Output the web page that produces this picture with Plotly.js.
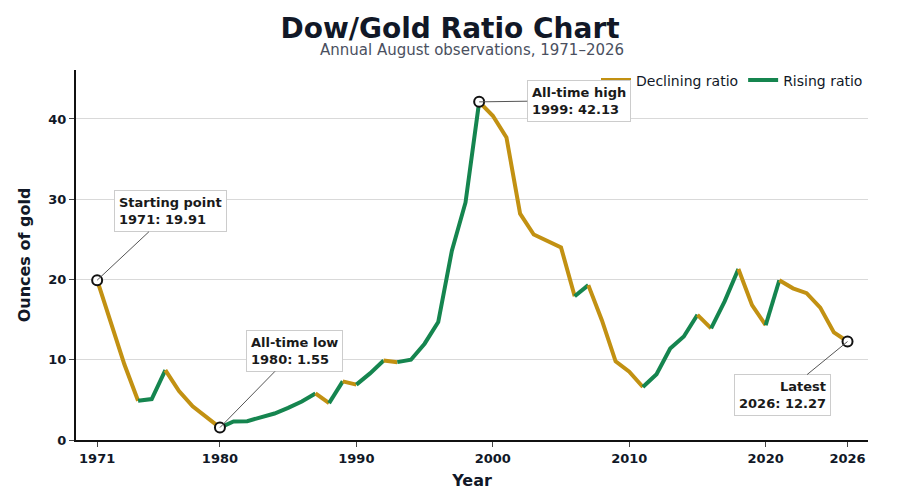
<!DOCTYPE html>
<html>
<head>
<meta charset="utf-8">
<script src="https://cdn.plot.ly/plotly-3.0.1.min.js"></script>
<style>body{margin:0;background:#fff}#chart{width:900px;height:500px}</style>
</head>
<body>
<div id="chart"></div>
<script>
var years = [];
for (var y = 1971; y <= 2026; y++) years.push(y);

var ratio = [19.91, 14.7, 9.4, 4.9, 5.1, 8.7, 6.1, 4.2, 2.9, 1.55,
	2.3, 2.35, 2.8, 3.3, 4.0, 4.8, 5.8, 4.6, 7.3, 6.9,
	8.3, 9.9, 9.7, 10.0, 12.0, 14.7, 23.6, 29.6, 42.13, 40.4,
	37.7, 28.2, 25.6, 24.8, 24.0, 17.9, 19.3, 14.9, 9.8, 8.5,
	6.6, 8.2, 11.4, 12.9, 15.6, 13.9, 17.3, 21.3, 16.8, 14.3,
	19.9, 18.9, 18.3, 16.5, 13.4, 12.27];

var tick_vals = [1971, 1980, 1990, 2000, 2010, 2020, 2026];

var notes = [
	{year: 1971, value: 19.91, text: 'Starting point<br>1971: 19.91', tx: 1976.4, ty: 28.5, align: 'left'},
	{year: 1980, value: 1.55, text: 'All-time low<br>1980: 1.55', tx: 1985.5, ty: 11.1, align: 'left'},
	{year: 1999, value: 42.13, text: 'All-time high<br>1999: 42.13', tx: 2006.3, ty: 42.3, align: 'left'},
	{year: 2026, value: 12.27, text: 'Latest<br>2026: 12.27', tx: 2021.2, ty: 5.6, align: 'right'}
];

var down_colour = '#c29112';
var up_colour = '#15854f';

// split the series into runs of rising / falling segments
var data = [];
var shown = {down: false, up: false};
var i = 0;
while (i < ratio.length - 1) {
	var rising = ratio[i + 1] > ratio[i];
	var j = i;
	while (j < ratio.length - 1 && (ratio[j + 1] > ratio[j]) === rising) j++;
	var kind = rising ? 'up' : 'down';
	data.push({
		x: years.slice(i, j + 1),
		y: ratio.slice(i, j + 1),
		type: 'scatter',
		mode: 'lines',
		line: {color: rising ? up_colour : down_colour, width: 4},
		name: rising ? 'Rising ratio' : 'Declining ratio',
		legendgroup: kind,
		legendrank: rising ? 2 : 1,
		showlegend: !shown[kind],
		hoverinfo: 'x+y'
	});
	shown[kind] = true;
	i = j;
}

data.push({
	x: notes.map(function (n) { return n.year; }),
	y: notes.map(function (n) { return n.value; }),
	type: 'scatter',
	mode: 'markers',
	marker: {size: 10, color: '#fff', line: {color: '#111', width: 2}},
	showlegend: false,
	hoverinfo: 'skip'
});

var annotations = notes.map(function (n) {
	return {
		x: n.year, y: n.value, xref: 'x', yref: 'y',
		ax: n.tx, ay: n.ty, axref: 'x', ayref: 'y',
		text: '<b>' + n.text + '</b>',
		align: n.align,
		showarrow: true, arrowhead: 0, arrowwidth: 1, arrowcolor: '#555',
		bgcolor: '#fff', bordercolor: '#ccc', borderwidth: 1, borderpad: 4,
		font: {size: 13, color: '#1a1a1a'}
	};
});
annotations.push({
	text: 'Annual August observations, 1971–2026',
	xref: 'paper', yref: 'paper', x: 0.5, y: 1, yshift: 20, xanchor: 'center', yanchor: 'middle',
	showarrow: false, font: {size: 15, color: '#4a5060'}
});

var layout = {
	width: 900, height: 500,
	margin: {l: 76, r: 32, t: 70, b: 60},
	font: {family: 'DejaVu Sans', color: '#111827'},
	title: {text: '<b>Dow/Gold Ratio Chart</b>', font: {size: 28, color: '#111827'}, x: 0.5, xanchor: 'center', yref: 'container', y: 0.944, yanchor: 'middle'},
	paper_bgcolor: '#fff', plot_bgcolor: '#fff',
	xaxis: {
		range: [1969.45, 2027.5],
		tickvals: tick_vals,
		ticks: 'outside', ticklen: 5,
		showgrid: false, zeroline: false,
		showline: true, linecolor: '#111', linewidth: 2,
		tickfont: {size: 13, weight: 'bold'},
		title: {text: '<b>Year</b>', font: {size: 16}, standoff: 10}
	},
	yaxis: {
		range: [0, 46.1],
		tickvals: [0, 10, 20, 30, 40],
		ticks: 'outside', ticklen: 5,
		gridcolor: '#d9d9d9', zeroline: false,
		showline: true, linecolor: '#111', linewidth: 2,
		tickfont: {size: 13, weight: 'bold'},
		title: {text: '<b>Ounces of gold</b>', font: {size: 16}, standoff: 14}
	},
	legend: {orientation: 'h', x: 1, xanchor: 'right', y: 1.015, yanchor: 'top', font: {size: 14}, bgcolor: 'rgba(255,255,255,0)'},
	annotations: annotations
};

Plotly.newPlot('chart', data, layout, {displayModeBar: false});
</script>
</body>
</html>
